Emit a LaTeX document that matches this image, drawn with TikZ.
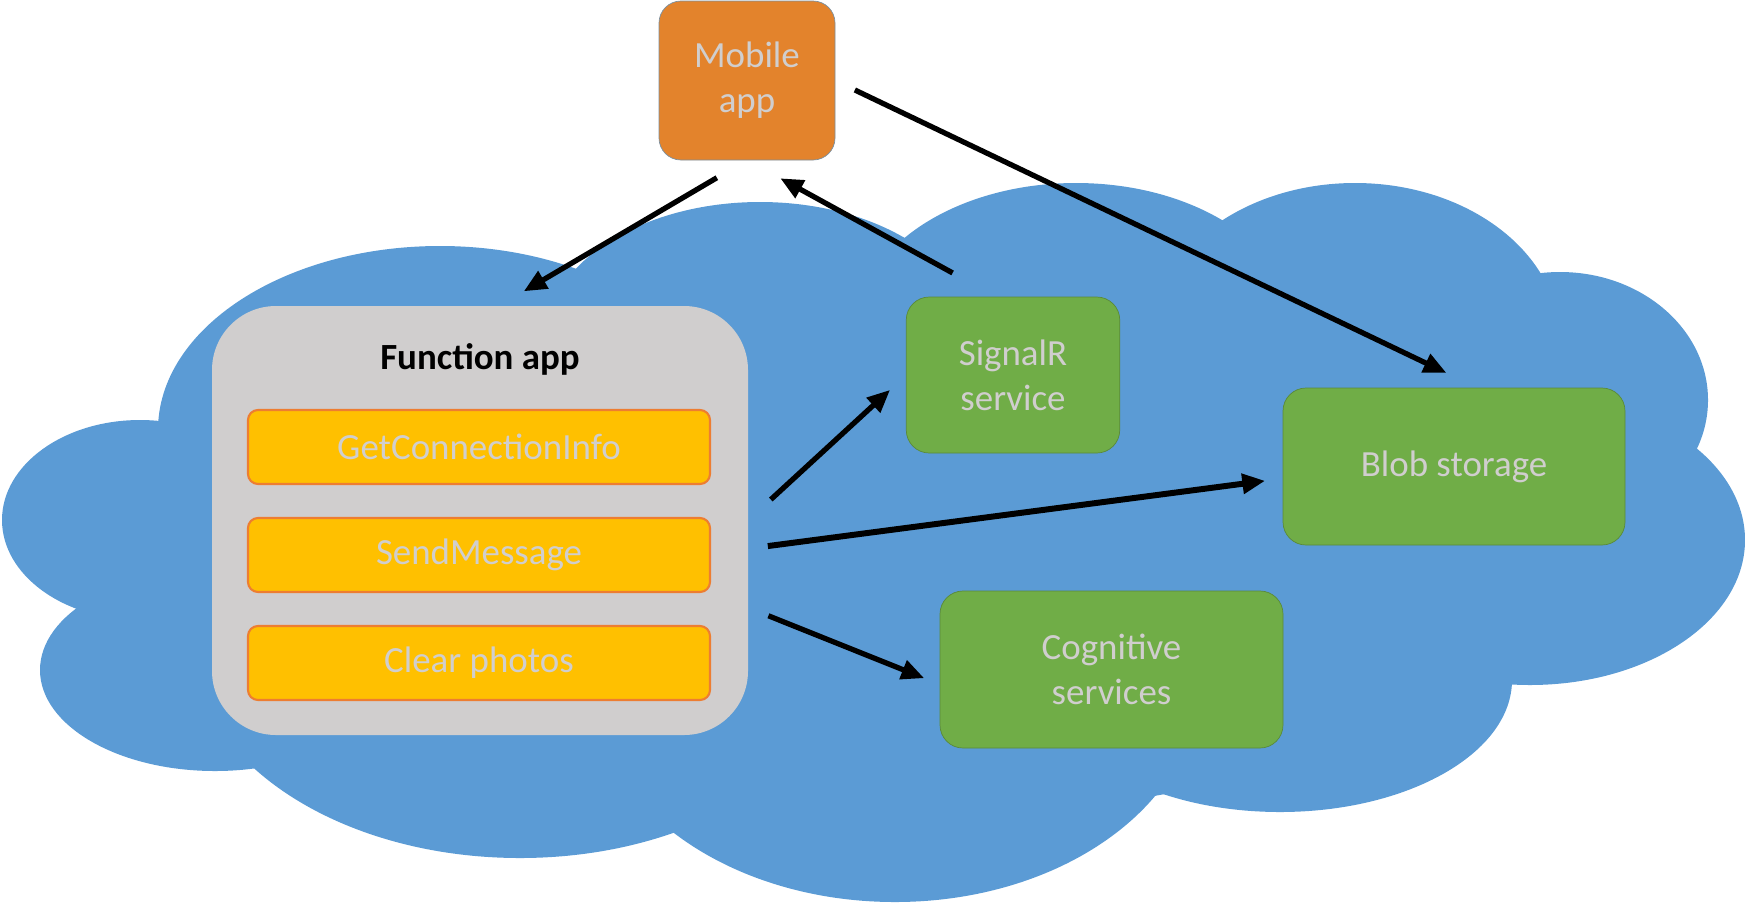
\documentclass[tikz,border=0pt]{standalone}
\usepackage{fontspec}
\setmainfont{Carlito}
\usepackage{tikz}
\usetikzlibrary{arrows.meta, positioning}
\definecolor{cloudBlue}{HTML}{5B9BD5}
\definecolor{mobileOrange}{HTML}{E3832C}
\definecolor{mobileEdge}{HTML}{7A8FA0}
\definecolor{azureGreen}{HTML}{70AD47}
\definecolor{funcGold}{HTML}{FFC000}
\definecolor{funcOrange}{HTML}{ED7D31}
\definecolor{panelGray}{HTML}{D0CECE}
\definecolor{labelGray}{HTML}{D0CECE}
\tikzset{
  lbl/.style={font=\fontsize{10.5}{12.8}\selectfont, text=labelGray, align=center},
  svcbox/.style={lbl, fill=azureGreen, draw=azureGreen!80!black, line width=0.2pt, rounded corners=2.3mm},
  fnbox/.style={lbl, fill=funcGold, draw=funcOrange, line width=0.6pt, rounded corners=1mm, minimum width=46.2mm, minimum height=7.4mm},
  flow/.style={-{Triangle[length=6.5pt, width=5.5pt]}, line width=1.5pt, black},
}

\begin{document}
\begin{tikzpicture}[x=0.1mm, y=-0.1mm, every node/.style={inner sep=0pt, outer sep=0pt}]
	\useasboundingbox (0,0) rectangle (1745,902);
	% cloud
	\foreach \cx/\cy/\rx/\ry in {140/520/138/100, 215/670/175/101, 440/430/282/184, 760/340/215/138,
		1076/330/220/147, 1355/340/205/157, 1560/400/148/128, 1530/540/215/145,
		1280/680/232/132, 895/680/305/222, 520/638/330/220, 870/540/700/280}
		\fill[cloudBlue] (\cx,\cy) ellipse [x radius=\rx, y radius=\ry];

	\node[lbl, fill=mobileOrange, draw=mobileEdge, line width=0.2pt, rounded corners=2.2mm,
		minimum width=17.6mm, minimum height=15.9mm] (mob) at (747,80.5) {Mobile\\app};

	\node[fill=panelGray, rounded corners=6.4mm, minimum width=53.6mm, minimum height=42.9mm] (fa) at (480,520.5) {};
	\node[below=3.8mm, font=\fontsize{10.5}{12.8}\selectfont\bfseries] (fatitle) at (fa.north) {Function app};
	\node[fnbox] (getinfo) at (479,447) {GetConnectionInfo};
	\node[fnbox, below=3.4mm of getinfo] (sendmsg) {SendMessage};
	\node[fnbox, below=3.4mm of sendmsg] (clear) {Clear photos};

	\node[svcbox, minimum width=21.35mm, minimum height=15.6mm] (sig) at (1013,375) {SignalR\\service};
	\node[svcbox, minimum width=34.2mm, minimum height=15.7mm] (blob) at (1454,466.5) {Blob storage};
	\node[svcbox, minimum width=34.3mm, minimum height=15.7mm] (cog) at (1111.5,669.5) {Cognitive\\services};

	\draw[flow, shorten <=3.5mm, shorten >=2.9mm] (mob.south) -- (fa.85);
	\draw[flow, shorten <=5mm, shorten >=3.8mm] (sig.102) -- (mob.south);
	\draw[flow, shorten <=2.2mm, shorten >=3.5mm] (mob.east) -- (blob.73);
	\draw[flow, shorten <=3.1mm, shorten >=2.2mm] (fa.east) -- (sig.west);
	\draw[flow, line width=1.7pt, shorten <=2mm, shorten >=1.8mm] (fa.-6) -- (blob.184);
	\draw[flow, shorten <=2.2mm, shorten >=1.7mm] (fa.-18) -- (cog.185);

\end{tikzpicture}
\end{document}
